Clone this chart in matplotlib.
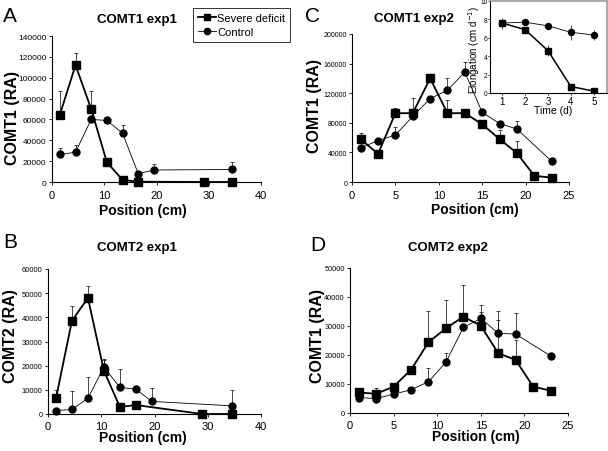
import matplotlib
matplotlib.use("Agg")
import matplotlib.pyplot as plt
from matplotlib.lines import Line2D
from matplotlib.ticker import FuncFormatter
import numpy as np

plt.rcParams['font.family'] = ['Liberation Sans', 'DejaVu Sans']

# ---------------- data ----------------
# Panel A: COMT1 exp1
a_sev_x = [1.5, 4.5, 7.5, 10.5, 13.5, 16.5, 29, 34.5]
a_sev_y = [64500, 112000, 70000, 19000, 2000, 300, 0, 0]
a_sev_e = [22500, 11500, 17000, 4000, 0, 0, 0, 0]
a_con_x = [1.5, 4.5, 7.5, 10.5, 13.5, 16.5, 19.5, 34.5]
a_con_y = [26500, 28500, 60000, 59000, 46800, 8000, 11500, 12000]
a_con_e = [6500, 7000, 0, 0, 7700, 0, 5500, 7000]

# Panel B: COMT2 exp1
b_sev_x = [1.5, 4.5, 7.5, 10.5, 13.5, 16.5, 29, 34.5]
b_sev_y = [6500, 38600, 48000, 17900, 2900, 3700, 0, 0]
b_sev_e = [3500, 6200, 5000, 4700, 0, 0, 0, 0]
b_con_x = [1.5, 4.5, 7.5, 10.5, 13.5, 16.5, 19.5, 34.5]
b_con_y = [1400, 1900, 6500, 19400, 11000, 10300, 5200, 3400]
b_con_e = [0, 7600, 8700, 2800, 7600, 0, 5400, 6600]

# Panel C: COMT1 exp2
c_sev_x = [1, 3, 5, 7, 9, 11, 13, 15, 17, 19, 21, 23]
c_sev_y = [58000, 38000, 93000, 93000, 140000, 93000, 93000, 78000, 58000, 39000, 8500, 5800]
c_sev_e = [7800, 0, 7000, 20000, 5500, 18000, 0, 0, 12000, 17000, 0, 0]
c_con_x = [1, 3, 5, 7, 9, 11, 13, 15, 17, 19, 23]
c_con_y = [46000, 56000, 63500, 88700, 112600, 124000, 148600, 94000, 79000, 71600, 28000]
c_con_e = [0, 0, 10500, 0, 0, 16000, 13000, 0, 0, 11500, 0]

# Panel D: COMT2 exp2
d_sev_x = [1, 3, 5, 7, 9, 11, 13, 15, 17, 19, 21, 23]
d_sev_y = [7100, 6600, 9100, 14900, 24400, 29200, 33200, 30100, 20600, 18300, 9100, 7700]
d_sev_e = [0, 1900, 0, 0, 10800, 9700, 10900, 4800, 11600, 7000, 0, 0]
d_con_x = [1, 3, 5, 7, 9, 11, 13, 15, 17, 19, 23]
d_con_y = [5300, 5000, 6500, 8000, 10800, 17500, 29500, 32600, 27500, 27200, 19700]
d_con_e = [0, 0, 0, 0, 4800, 3200, 0, 4800, 7600, 7200, 0]

# Inset: elongation
i_days = [1, 2, 3, 4, 5]
i_con_y = [7.6, 7.7, 7.3, 6.6, 6.3]
i_con_e = [0.6, 0, 0, 0.8, 0.5]
i_sev_y = [7.6, 6.9, 4.6, 0.7, 0.2]
i_sev_e = [0, 0, 0.6, 0, 0]

W, H = 608, 452
fig = plt.figure(figsize=(W / 100, H / 100), dpi=100)


def px_axes(x0, y0, x1, y1):
    return fig.add_axes([x0 / W, 1 - y1 / H, (x1 - x0) / W, (y1 - y0) / H])


def ftext(x, y, s, **kw):
    fig.text(x / W, 1 - y / H, s, **kw)


fmt = FuncFormatter(lambda v, p: '%d' % v)


def panel(ax, sx, sy, se, cx, cy, ce, xlim, xticks, ylim, ystep, yfs, xpad, ypad):
    ax.errorbar(cx, cy, yerr=[np.zeros(len(ce)), ce], fmt='none', ecolor='black',
                elinewidth=0.5, capsize=1.6, capthick=0.5, zorder=2)
    ax.errorbar(sx, sy, yerr=[np.zeros(len(se)), se], fmt='none', ecolor='black',
                elinewidth=0.5, capsize=1.6, capthick=0.5, zorder=2)
    ax.plot(cx, cy, '-', color='black', lw=0.6, marker='o', ms=5, zorder=3, clip_on=False)
    ax.plot(sx, sy, '-', color='black', lw=1.3, marker='s', ms=5.8, zorder=4, clip_on=False)
    ax.set_xlim(*xlim)
    ax.set_ylim(*ylim)
    ax.set_xticks(xticks)
    ax.set_yticks(np.arange(ylim[0], ylim[1] + 1, ystep))
    ax.yaxis.set_major_formatter(fmt)
    for s in ['top', 'right']:
        ax.spines[s].set_visible(False)
    for s in ['left', 'bottom']:
        ax.spines[s].set_linewidth(0.8)
    ax.tick_params(axis='x', direction='out', length=2.5, width=0.6, labelsize=8, pad=xpad)
    ax.tick_params(axis='y', direction='out', length=2.5, width=0.6, labelsize=yfs, pad=ypad)
    ax.patch.set_alpha(0)


# Panel A
axA = px_axes(52, 37, 261, 183)
panel(axA, a_sev_x, a_sev_y, a_sev_e, a_con_x, a_con_y, a_con_e,
      (0, 40), [0, 10, 20, 30, 40], (0, 140000), 20000, 6, 3.6, 1.5)
# Panel C
axC = px_axes(352, 35, 569, 183)
panel(axC, c_sev_x, c_sev_y, c_sev_e, c_con_x, c_con_y, c_con_e,
      (0, 25), [0, 5, 10, 15, 20, 25], (0, 200000), 40000, 5, 3.6, 1.0)
# Panel B
axB = px_axes(48, 270, 261, 415)
panel(axB, b_sev_x, b_sev_y, b_sev_e, b_con_x, b_con_y, b_con_e,
      (0, 40), [0, 10, 20, 30, 40], (0, 60000), 10000, 5.5, 2.2, 1.5)
# Panel D
axD = px_axes(350, 269, 568, 414)
panel(axD, d_sev_x, d_sev_y, d_sev_e, d_con_x, d_con_y, d_con_e,
      (0, 25), [0, 5, 10, 15, 20, 25], (0, 50000), 10000, 5.3, 2.2, 1.2)

# letters
for (x, y, s) in [(3, 7, 'A'), (305, 7, 'C'), (3, 233, 'B'), (310, 236, 'D')]:
    ftext(x, y, s, fontsize=15, va='top', ha='left')

# titles
for (x, y, s) in [(137, 20, 'COMT1 exp1'), (414, 19, 'COMT1 exp2'),
                  (137, 248, 'COMT2 exp1'), (448, 248, 'COMT2 exp2')]:
    ftext(x, y, s, fontsize=9.5, fontweight='bold', ha='center', va='center')

# y labels
for (x, y, s) in [(13, 118, 'COMT1 (RA)'), (315, 106, 'COMT1 (RA)'),
                  (11, 336, 'COMT2 (RA)'), (317, 336, 'COMT1 (RA)')]:
    ftext(x, y, s, fontsize=11.5, fontweight='bold', ha='center', va='center', rotation=90)

# x labels
for (x, y, s) in [(143, 215.5, 'Position (cm)'), (475, 214.5, 'Position (cm)'),
                  (143, 442, 'Position (cm)'), (476, 441, 'Position (cm)')]:
    ftext(x, y, s, fontsize=10, fontweight='bold', ha='center', va='baseline')

# legend
handles = [Line2D([], [], color='black', lw=1.3, marker='s', ms=5),
           Line2D([], [], color='black', lw=0.6, marker='o', ms=4.5)]
leg = axA.legend(handles, ['Severe deficit', 'Control'], loc='upper left',
                 bbox_to_anchor=(193 / W, 1 - 9 / H), bbox_transform=fig.transFigure,
                 fontsize=8, frameon=True, fancybox=False, handlelength=1.6,
                 handletextpad=0.1, borderpad=0.45, labelspacing=0.35, borderaxespad=0)
leg.get_frame().set_edgecolor('black')
leg.get_frame().set_linewidth(0.7)

# inset
axI = px_axes(490, 2, 607, 94)
axI.set_facecolor('white')
axI.errorbar(i_days, i_con_y, yerr=i_con_e, fmt='none', ecolor='black', elinewidth=0.5, capsize=0)
axI.errorbar(i_days, i_sev_y, yerr=i_sev_e, fmt='none', ecolor='black', elinewidth=0.5, capsize=0)
axI.plot(i_days, i_con_y, '-', color='black', lw=0.6, marker='o', ms=4.3, zorder=3)
axI.plot(i_days, i_sev_y, '-', color='black', lw=1.1, marker='s', ms=3.8, zorder=4)
axI.set_xlim(0.48, 5.57)
axI.set_ylim(0, 10)
axI.set_xticks([1, 2, 3, 4, 5])
axI.set_yticks([0, 2, 4, 6, 8, 10])
for s in ['top', 'right']:
    axI.spines[s].set_color('#9a9a9a')
    axI.spines[s].set_linewidth(1.2)
for s in ['left', 'bottom']:
    axI.spines[s].set_linewidth(0.8)
axI.tick_params(axis='x', direction='out', length=1.5, width=0.6, labelsize=7, pad=0.8)
axI.tick_params(axis='y', direction='out', length=1.2, width=0.6, labelsize=4.8, pad=0.4)
ftext(553, 114, 'Time (d)', fontsize=7.5, ha='center', va='baseline')
ftext(474.3, 50, 'Elongation (cm d$^{-1}$)', fontsize=7, ha='center', va='center', rotation=90)

fig.savefig('out.png', dpi=100)
